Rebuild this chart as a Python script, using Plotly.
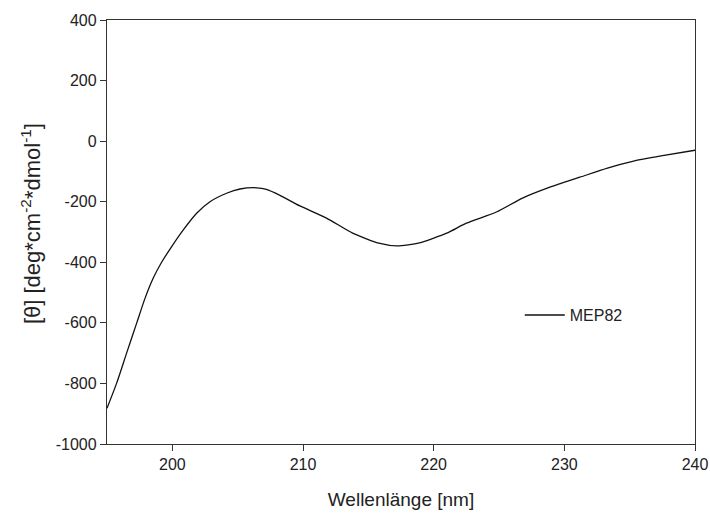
import plotly.graph_objects as go

wavelength = [195.0, 195.74, 196.5, 197.27, 197.9, 198.54, 199.18, 199.95, 200.84, 201.86,
              202.88, 204.15, 205.18, 206.45, 207.2, 208.2, 209.77, 211.8, 213.8, 215.8,
              217.2, 218.9, 221.0, 222.5, 224.8, 226.8, 228.9, 231.2, 233.3, 235.3, 237.4, 240.0]
ellipticity = [-882, -799, -700, -601, -520, -452, -400, -348, -293, -238,
               -200, -172, -158, -154, -159, -178, -214, -254, -304, -337,
               -346, -336, -304, -271, -234, -188, -152, -119, -89, -66, -49, -30]

series_name = "MEP82"
x_ticks = [200, 210, 220, 230, 240]
y_ticks = [-1000, -800, -600, -400, -200, 0, 200, 400]

font_family = "Liberation Sans, Arial, sans-serif"

fig = go.Figure()
fig.add_trace(go.Scatter(
    x=wavelength, y=ellipticity, mode="lines", name=series_name,
    line=dict(color="#111111", width=1.3, shape="spline", smoothing=0.6),
    showlegend=True,
))

axis_common = dict(
    showgrid=False, zeroline=False, showline=True, linecolor="#333333", linewidth=1.3,
    mirror=True, ticks="outside", ticklen=6, tickwidth=1.2, tickcolor="#333333",
    tickfont=dict(family=font_family, size=16, color="#222222"), automargin=False,
)

fig.update_layout(
    width=710, height=516,
    margin=dict(l=107, r=15, t=20, b=72),
    paper_bgcolor="white", plot_bgcolor="white",
    font=dict(family=font_family, color="#222222"),
    xaxis=dict(range=[195, 240], tickvals=x_ticks, ticktext=[str(v) for v in x_ticks],
               title=dict(text="Wellenlänge [nm]", font=dict(size=19), standoff=20), **axis_common),
    yaxis=dict(range=[-1000, 400], tickvals=y_ticks, ticktext=[str(v) for v in y_ticks],
               **axis_common),
    legend=dict(x=0.702, y=0.304, xanchor="left", yanchor="middle", bgcolor="rgba(0,0,0,0)",
                itemwidth=40,
                font=dict(family=font_family, size=16, color="#222222")),
    annotations=[dict(
        text="[θ] [deg*cm<sup>-2</sup>*dmol<sup>-1</sup>]", textangle=-90,
        xref="paper", yref="paper", x=-0.13, y=0.52, xanchor="center", yanchor="middle",
        showarrow=False, font=dict(family=font_family, size=22, color="#222222"),
    )],
)

fig.write_html("out.html")
